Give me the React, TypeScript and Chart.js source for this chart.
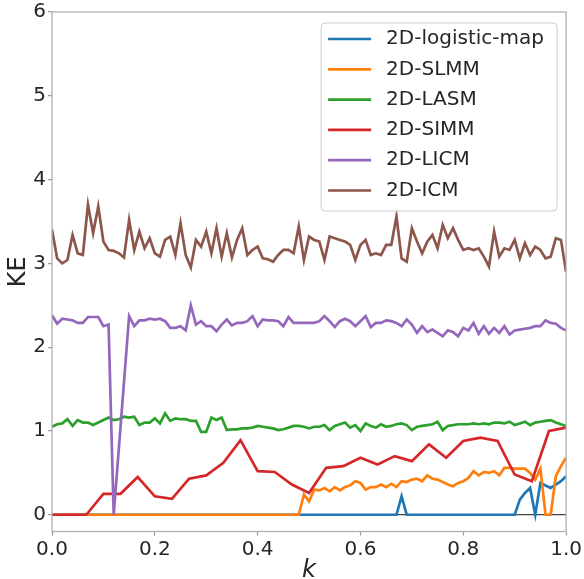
import React, { useEffect, useRef } from 'react';
import { Chart, registerables } from 'chart.js';

Chart.register(...registerables);

// k grids (x values)
const K_GRID: number[] = Array.from({ length: 101 }, (_, i) => i / 100);
const K_SIMM: number[] = Array.from({ length: 31 }, (_, i) => i / 30);

const X_TICKS = [0, 0.2, 0.4, 0.6, 0.8, 1.0];
const Y_TICKS = [0, 1, 2, 3, 4, 5, 6];

const LOGISTIC = [
  0, 0, 0, 0, 0, 0, 0, 0, 0, 0,
  0, 0, 0, 0, 0, 0, 0, 0, 0, 0,
  0, 0, 0, 0, 0, 0, 0, 0, 0, 0,
  0, 0, 0, 0, 0, 0, 0, 0, 0, 0,
  0, 0, 0, 0, 0, 0, 0, 0, 0, 0,
  0, 0, 0, 0, 0, 0, 0, 0, 0, 0,
  0, 0, 0, 0, 0, 0, 0, 0, 0.22, 0,
  0, 0, 0, 0, 0, 0, 0, 0, 0, 0,
  0, 0, 0, 0, 0, 0, 0, 0, 0, 0,
  0, 0.18, 0.26, 0.32, 0, 0.38, 0.35, 0.32, 0.36, 0.40,
  0.46,
];

const SLMM = [
  0, 0, 0, 0, 0, 0, 0, 0, 0, 0,
  0, 0, 0, 0, 0, 0, 0, 0, 0, 0,
  0, 0, 0, 0, 0, 0, 0, 0, 0, 0,
  0, 0, 0, 0, 0, 0, 0, 0, 0, 0,
  0, 0, 0, 0, 0, 0, 0, 0, 0, 0.24,
  0.16, 0.30, 0.29, 0.32, 0.28, 0.33, 0.29, 0.33, 0.35, 0.40,
  0.38, 0.30, 0.33, 0.33, 0.36, 0.33, 0.37, 0.33, 0.40, 0.39,
  0.42, 0.43, 0.40, 0.47, 0.43, 0.42, 0.39, 0.36, 0.34, 0.38,
  0.40, 0.44, 0.52, 0.47, 0.51, 0.50, 0.52, 0.47, 0.56, 0.56,
  0.55, 0.55, 0.55, 0.50, 0.42, 0.55, 0.00, 0.00, 0.46, 0.58,
  0.68,
];

const LASM = [
  1.05, 1.08, 1.09, 1.14, 1.06, 1.13, 1.10, 1.10, 1.07, 1.10,
  1.13, 1.16, 1.13, 1.14, 1.17, 1.16, 1.17, 1.07, 1.10, 1.10,
  1.15, 1.09, 1.21, 1.12, 1.15, 1.14, 1.14, 1.12, 1.12, 0.99,
  0.99, 1.16, 1.13, 1.16, 1.01, 1.02, 1.02, 1.03, 1.03, 1.04,
  1.06, 1.05, 1.04, 1.03, 1.01, 1.02, 1.04, 1.06, 1.06, 1.05,
  1.03, 1.05, 1.05, 1.07, 1.01, 1.06, 1.08, 1.10, 1.04, 1.07,
  1.00, 1.09, 1.06, 1.04, 1.08, 1.05, 1.06, 1.08, 1.09, 1.07,
  1.01, 1.05, 1.06, 1.07, 1.08, 1.11, 1.01, 1.06, 1.07, 1.08,
  1.08, 1.08, 1.09, 1.08, 1.09, 1.08, 1.10, 1.10, 1.09, 1.11,
  1.07, 1.09, 1.11, 1.07, 1.10, 1.11, 1.12, 1.13, 1.10, 1.08,
  1.06,
];

const SIMM = [
  0, 0, 0, 0.25, 0.25, 0.45, 0.22, 0.19, 0.43, 0.47,
  0.62, 0.89, 0.52, 0.51, 0.36, 0.26, 0.56, 0.58, 0.68, 0.60,
  0.70, 0.64, 0.84, 0.68, 0.88, 0.92, 0.88, 0.48, 0.40, 1.00,
  1.04,
];

const LICM = [
  2.38, 2.28, 2.34, 2.33, 2.32, 2.29, 2.29, 2.36, 2.36, 2.36,
  2.25, 2.27, 0.00, 0.79, 1.58, 2.37, 2.25, 2.32, 2.32, 2.34,
  2.33, 2.34, 2.31, 2.23, 2.23, 2.25, 2.20, 2.50, 2.27, 2.31,
  2.25, 2.25, 2.19, 2.27, 2.33, 2.26, 2.29, 2.29, 2.31, 2.37,
  2.25, 2.33, 2.32, 2.32, 2.31, 2.25, 2.36, 2.29, 2.29, 2.29,
  2.29, 2.29, 2.31, 2.37, 2.31, 2.24, 2.31, 2.34, 2.31, 2.25,
  2.31, 2.37, 2.24, 2.29, 2.29, 2.32, 2.31, 2.29, 2.25, 2.33,
  2.27, 2.17, 2.25, 2.18, 2.21, 2.17, 2.13, 2.20, 2.18, 2.13,
  2.23, 2.20, 2.29, 2.16, 2.25, 2.16, 2.23, 2.17, 2.25, 2.15,
  2.20, 2.21, 2.22, 2.23, 2.25, 2.25, 2.32, 2.29, 2.28, 2.23,
  2.20,
];

const ICM = [
  3.40, 3.06, 3.00, 3.04, 3.34, 3.12, 3.10, 3.70, 3.36, 3.68,
  3.26, 3.16, 3.15, 3.12, 3.07, 3.52, 3.16, 3.38, 3.18, 3.30,
  3.12, 3.08, 3.28, 3.32, 3.10, 3.48, 3.10, 2.95, 3.28, 3.20,
  3.38, 3.12, 3.42, 3.08, 3.36, 3.07, 3.28, 3.42, 3.10, 3.16,
  3.20, 3.06, 3.05, 3.02, 3.10, 3.16, 3.16, 3.12, 3.44, 3.04,
  3.32, 3.28, 3.26, 3.04, 3.32, 3.30, 3.28, 3.26, 3.22, 3.04,
  3.22, 3.28, 3.10, 3.12, 3.10, 3.22, 3.22, 3.56, 3.06, 3.02,
  3.42, 3.26, 3.12, 3.26, 3.34, 3.18, 3.46, 3.30, 3.42, 3.28,
  3.16, 3.18, 3.16, 3.18, 3.08, 2.96, 3.38, 3.08, 3.18, 3.16,
  3.28, 3.06, 3.24, 3.10, 3.20, 3.16, 3.06, 3.08, 3.30, 3.28,
  2.90,
];

const LABELS = ['2D-logistic-map', '2D-SLMM', '2D-LASM', '2D-SIMM', '2D-LICM', '2D-ICM'];
const COLORS = ['#1f77b4', '#ff7f0e', '#2ca02c', '#d62728', '#9467bd', '#8c564b'];
const XS = [K_GRID, K_GRID, K_GRID, K_SIMM, K_GRID, K_GRID];
const YS = [LOGISTIC, SLMM, LASM, SIMM, LICM, ICM];

const FONT = 'DejaVu Sans';
const TEXT_COLOR = '#262626';

const frameAndLegend = {
  id: 'frameAndLegend',
  afterDatasetsDraw(chart: any) {
    const { ctx, chartArea } = chart;
    ctx.save();
    ctx.strokeStyle = '#b0b0b0';
    ctx.lineWidth = 1.3;
    ctx.strokeRect(chartArea.left, chartArea.top, chartArea.right - chartArea.left, chartArea.bottom - chartArea.top);
    ctx.restore();
  },
  afterDraw(chart: any) {
    const { ctx, chartArea } = chart;
    const w = 236;
    const h = 188;
    const x0 = chartArea.right - 9 - w;
    const y0 = chartArea.top + 11;
    ctx.save();
    ctx.beginPath();
    const r = 4;
    ctx.moveTo(x0 + r, y0);
    ctx.lineTo(x0 + w - r, y0);
    ctx.quadraticCurveTo(x0 + w, y0, x0 + w, y0 + r);
    ctx.lineTo(x0 + w, y0 + h - r);
    ctx.quadraticCurveTo(x0 + w, y0 + h, x0 + w - r, y0 + h);
    ctx.lineTo(x0 + r, y0 + h);
    ctx.quadraticCurveTo(x0, y0 + h, x0, y0 + h - r);
    ctx.lineTo(x0, y0 + r);
    ctx.quadraticCurveTo(x0, y0, x0 + r, y0);
    ctx.closePath();
    ctx.fillStyle = 'rgba(255,255,255,0.8)';
    ctx.fill();
    ctx.strokeStyle = '#cccccc';
    ctx.lineWidth = 1;
    ctx.stroke();

    ctx.font = `20px "${FONT}"`;
    ctx.textBaseline = 'middle';
    ctx.textAlign = 'left';
    chart.data.datasets.forEach((ds: any, i: number) => {
      const cy = y0 + 16 + i * 30.3;
      ctx.strokeStyle = ds.borderColor;
      ctx.lineWidth = 2.7;
      ctx.beginPath();
      ctx.moveTo(x0 + 7, cy);
      ctx.lineTo(x0 + 50, cy);
      ctx.stroke();
      ctx.fillStyle = TEXT_COLOR;
      ctx.fillText(ds.label, x0 + 65, cy);
    });
    ctx.restore();
  },
};

export default function App() {
  const ref = useRef<HTMLCanvasElement | null>(null);

  useEffect(() => {
    document.body.style.margin = '0';
    if (!ref.current) return;
    const datasets = LABELS.map((label, i) => ({
      label,
      data: YS[i].map((v, j) => ({ x: XS[i][j], y: v })),
      borderColor: COLORS[i],
      backgroundColor: COLORS[i],
      borderWidth: 2.7,
      pointRadius: 0,
      fill: false,
      tension: 0,
      order: LABELS.length - 1 - i,
    }));

    const chart = new Chart(ref.current, {
      type: 'line',
      data: { datasets },
      options: {
        animation: false,
        responsive: false,
        layout: { padding: { left: 0, right: 16, top: 11, bottom: 0 } },
        plugins: { legend: { display: false }, tooltip: { enabled: false } },
        scales: {
          x: {
            type: 'linear',
            min: 0,
            max: 1,
            afterBuildTicks: (scale: any) => {
              scale.ticks = X_TICKS.map((v) => ({ value: v }));
            },
            afterFit: (scale: any) => {
              scale.height = 47.5;
            },
            border: { display: false },
            grid: {
              drawOnChartArea: false,
              drawTicks: true,
              tickLength: 4,
              tickColor: '#999999',
              tickWidth: 1.2,
            },
            ticks: {
              padding: 2,
              maxRotation: 0,
              autoSkip: false,
              color: TEXT_COLOR,
              font: { family: FONT, size: 20, lineHeight: 1.2 },
              callback: (v: any) => Number(v).toFixed(1),
            },
            title: {
              display: true,
              text: 'k',
              color: TEXT_COLOR,
              font: { family: FONT, size: 24, style: 'italic', lineHeight: 0.6 },
              padding: { top: 0, bottom: 0.8 },
            },
          },
          y: {
            type: 'linear',
            min: -0.2,
            max: 6,
            afterBuildTicks: (scale: any) => {
              scale.ticks = Y_TICKS.map((v) => ({ value: v }));
            },
            afterFit: (scale: any) => {
              scale.width = 52;
            },
            border: { display: false },
            grid: {
              drawOnChartArea: true,
              drawTicks: true,
              tickLength: 4,
              tickColor: '#999999',
              tickWidth: 1.2,
              color: (c: any) => (c.tick && c.tick.value === 0 ? '#444444' : 'rgba(0,0,0,0)'),
              lineWidth: 1.2,
            },
            ticks: {
              padding: 2,
              autoSkip: false,
              color: TEXT_COLOR,
              font: { family: FONT, size: 20, lineHeight: 1.0 },
              callback: (v: any) => String(v),
            },
            title: {
              display: true,
              text: 'KE',
              color: TEXT_COLOR,
              font: { family: FONT, size: 24, lineHeight: 1.2 },
              padding: { top: 4.6, bottom: 0 },
            },
          },
        },
      },
      plugins: [frameAndLegend],
    });
    return () => chart.destroy();
  }, []);

  return (
    <div style={{ position: 'fixed', left: 0, top: 0, width: 584, height: 579, background: '#ffffff' }}>
      <canvas ref={ref} width={584} height={579} style={{ width: 584, height: 579, display: 'block' }} />
    </div>
  );
}
